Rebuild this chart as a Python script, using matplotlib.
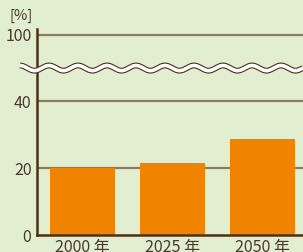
import numpy as np
import matplotlib
matplotlib.use("Agg")
import matplotlib.pyplot as plt
import matplotlib.patheffects as pe
from matplotlib.lines import Line2D

categories = ["2000 年", "2025 年", "2050 年"]
values = [20.0, 21.7, 28.9]
ytick_pos = [0, 20, 40, 60]
ytick_labels = ["0", "20", "40", "100"]
grid_vals = [20, 40, 60]
break_at = 50

plt.rcParams['font.family'] = ['Noto Sans CJK JP', 'DejaVu Sans']

BG = "#e2eed0"
ORANGE = "#f08300"
GRID = "#8b7d63"
SPINE = "#4d2e1a"
TXT = "#4a3a2a"

W, H = 303, 252
fig = plt.figure(figsize=(W/100, H/100), dpi=100, facecolor=BG)
ax = fig.add_axes([37/W, 1-235/H, 1-37/W, (235-29)/H])
ax.set_facecolor(BG)

x = np.arange(len(categories))
ax.bar(x, values, width=0.722, color=ORANGE, zorder=3)
ax.set_xlim(-0.506, 2.45)
ax.set_ylim(0, 61.7)

for g in grid_vals:
    ax.axhline(g, color=GRID, lw=1.6, zorder=1)

for s in ["top", "right"]:
    ax.spines[s].set_visible(False)
for s in ["left", "bottom"]:
    ax.spines[s].set_color(SPINE)
    ax.spines[s].set_linewidth(1.8)
    ax.spines[s].set_zorder(4)

ax.set_yticks(ytick_pos)
ax.set_yticklabels(ytick_labels)
ax.set_xticks(x)
ax.set_xticklabels(categories)
ax.tick_params(length=0, labelsize=11.5, colors=TXT)
ax.tick_params(axis="y", pad=4)
ax.tick_params(axis="x", pad=3)

# wavy break line
fig.canvas.draw()
_, yb = ax.transData.transform((0, break_at))
xs = np.linspace(20, W, 400)
period = 29.0
ys = yb + 2.6*np.sin(2*np.pi*(xs-20)/period + np.pi/2)
ln = Line2D(xs/W, ys/H, transform=fig.transFigure, color="white", lw=2.6,
            zorder=10, solid_capstyle="butt")
ln.set_path_effects([pe.Stroke(linewidth=4.2, foreground=SPINE), pe.Normal()])
fig.add_artist(ln)

fig.text(10/W, 1-16/H, "[%]", fontsize=10.5, color=TXT, va="center", ha="left")

fig.savefig("out.png", dpi=100, facecolor=BG)
